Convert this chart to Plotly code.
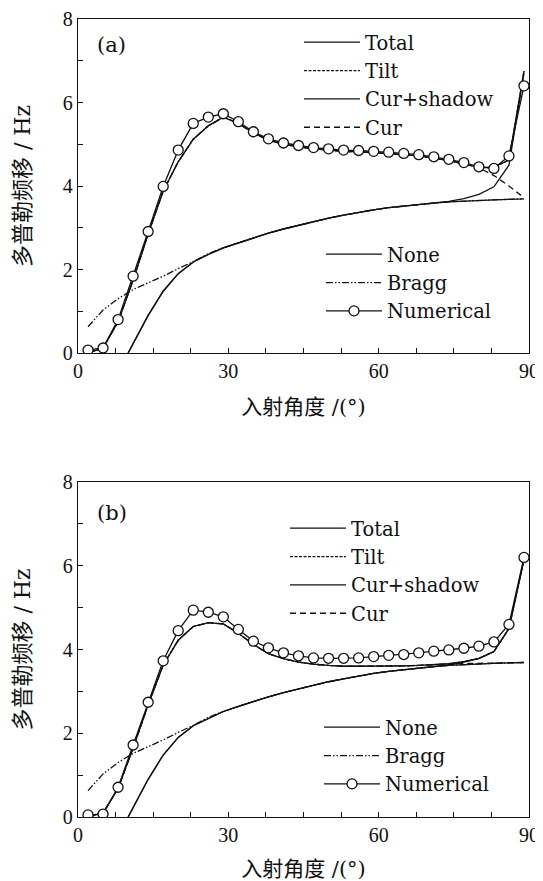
import plotly.graph_objects as go

# ---------------- data ----------------
x_num = [2, 5, 8, 11, 14, 17, 20, 23, 26, 29, 32, 35, 38, 41, 44, 47, 50, 53,
         56, 59, 62, 65, 68, 71, 74, 77, 80, 83, 86, 89]

# panel (a)
num_a = [0.07, 0.12, 0.80, 1.84, 2.91, 3.99, 4.86, 5.50, 5.65, 5.73, 5.54, 5.30,
         5.13, 5.03, 4.97, 4.92, 4.89, 4.86, 4.85, 4.83, 4.81, 4.78, 4.75, 4.70,
         4.64, 4.56, 4.46, 4.42, 4.72, 6.40]
total_a = [0.00, 0.12, 0.75, 1.75, 2.85, 3.88, 4.58, 5.12, 5.44, 5.65, 5.50, 5.27,
           5.10, 5.00, 4.94, 4.89, 4.86, 4.83, 4.82, 4.80, 4.78, 4.75, 4.72, 4.67,
           4.61, 4.53, 4.44, 4.45, 4.62, 6.75]
tilt_a = total_a
cur_a = [0.00, 0.12, 0.75, 1.75, 2.85, 3.88, 4.58, 5.12, 5.44, 5.65, 5.50, 5.27,
         5.10, 5.00, 4.94, 4.89, 4.86, 4.83, 4.82, 4.80, 4.78, 4.75, 4.72, 4.67,
         4.61, 4.53, 4.44, 4.25, 4.00, 3.72]

x_none = [10, 14, 17, 20, 23, 26, 29, 32, 35, 38, 41, 44, 47, 50, 53, 56, 59, 62,
          65, 68, 71, 74, 77, 80, 83, 86, 89]
none_a = [0.00, 0.90, 1.48, 1.90, 2.18, 2.36, 2.52, 2.64, 2.76, 2.87, 2.97, 3.06,
          3.15, 3.23, 3.30, 3.37, 3.43, 3.48, 3.52, 3.56, 3.59, 3.62, 3.64, 3.66,
          3.67, 3.68, 3.69]
curshadow_a = [0.00, 0.90, 1.48, 1.90, 2.18, 2.36, 2.52, 2.64, 2.76, 2.87, 2.97, 3.06,
               3.15, 3.23, 3.30, 3.37, 3.43, 3.48, 3.52, 3.56, 3.59, 3.63, 3.70, 3.80,
               3.98, 4.50, 6.70]

x_bragg = [2, 5, 8, 11, 14, 17, 20, 23, 26, 29, 32, 35, 38, 41, 44, 47, 50, 53,
           56, 59, 62, 65, 68, 71, 74, 77, 80, 83, 86, 89]
bragg_a = [0.63, 1.03, 1.30, 1.52, 1.68, 1.84, 2.02, 2.19, 2.38, 2.52, 2.64, 2.76,
           2.87, 2.97, 3.06, 3.15, 3.23, 3.30, 3.37, 3.43, 3.48, 3.52, 3.56, 3.59,
           3.62, 3.64, 3.66, 3.67, 3.68, 3.69]

# panel (b)
num_b = [0.05, 0.07, 0.71, 1.72, 2.74, 3.73, 4.45, 4.94, 4.89, 4.78, 4.48, 4.20,
         4.04, 3.92, 3.85, 3.80, 3.79, 3.79, 3.80, 3.83, 3.86, 3.88, 3.92, 3.96,
         3.99, 4.03, 4.08, 4.18, 4.60, 6.20]
total_b = [0.00, 0.10, 0.68, 1.65, 2.68, 3.63, 4.22, 4.55, 4.64, 4.61, 4.39, 4.12,
           3.90, 3.78, 3.70, 3.65, 3.62, 3.60, 3.60, 3.60, 3.60, 3.61, 3.62, 3.64,
           3.66, 3.71, 3.79, 3.95, 4.50, 6.15]
tilt_b = total_b
cur_b = [0.00, 0.10, 0.68, 1.65, 2.68, 3.63, 4.22, 4.55, 4.64, 4.61, 4.39, 4.12,
         3.90, 3.78, 3.70, 3.65, 3.62, 3.60, 3.60, 3.60, 3.60, 3.61, 3.62, 3.64,
         3.66, 3.67, 3.67, 3.68, 3.68, 3.69]
none_b = none_a
curshadow_b = [0.00, 0.90, 1.48, 1.90, 2.18, 2.36, 2.52, 2.64, 2.76, 2.87, 2.97, 3.06,
               3.15, 3.23, 3.30, 3.37, 3.43, 3.48, 3.52, 3.56, 3.59, 3.63, 3.70, 3.78,
               3.95, 4.50, 6.15]
bragg_b = bragg_a

x_tick_vals = [0, 30, 60, 90]
y_tick_vals = [0, 2, 4, 6, 8]
x_title = "入射角度 /(°)"
y_title = "多普勒频移 / Hz"
panel_labels = ["(a)", "(b)"]

# ---------------- styling ----------------
# The page body has an 8 px margin, so the figure is 8 px smaller than the window
# and all target (window) coordinates are shifted by OFF.
OFF = 8
W, H = 543 - OFF, 881 - OFF
ML, MR, MT, MB = 78 - OFF, 14, 19 - OFF, 64
PW, PH = W - ML - MR, H - MT - MB
TICKFONT = "'Liberation Serif', 'Noto Sans CJK SC', serif"
TEXTFONT = "'DejaVu Serif', 'Noto Sans CJK SC', serif"
LW = 1.3
BLACK = "#111111"


def px2x(px):
    return (px - OFF - ML) / PW


def py2y(py):
    return (H - MB - (py - OFF)) / PH


fig = go.Figure()


def add_panel(xa, ya, lg_top, lg_bot, total, tilt, cs, cur, none, bragg, num, cs_x):
    common = dict(xaxis=xa, yaxis=ya, mode="lines")
    fig.add_trace(go.Scatter(x=x_num, y=total, name="Total", legend=lg_top,
                             line=dict(color=BLACK, width=LW), **common))
    fig.add_trace(go.Scatter(x=x_num, y=tilt, name="Tilt", legend=lg_top,
                             line=dict(color=BLACK, width=LW, dash="3px,1.5px"), **common))
    fig.add_trace(go.Scatter(x=cs_x, y=cs, name="Cur+shadow", legend=lg_top,
                             line=dict(color=BLACK, width=LW), **common))
    fig.add_trace(go.Scatter(x=x_num, y=cur, name="Cur", legend=lg_top,
                             line=dict(color=BLACK, width=LW, dash="6px,4px"), **common))
    fig.add_trace(go.Scatter(x=x_none, y=none, name="None", legend=lg_bot,
                             line=dict(color=BLACK, width=LW), **common))
    fig.add_trace(go.Scatter(x=x_bragg, y=bragg, name="Bragg", legend=lg_bot,
                             line=dict(color=BLACK, width=LW, dash="7px,2px,1.5px,2px,1.5px,2px"),
                             **common))
    fig.add_trace(go.Scatter(x=x_num, y=num, name="Numerical", legend=lg_bot,
                             xaxis=xa, yaxis=ya, mode="lines+markers",
                             line=dict(color=BLACK, width=LW),
                             marker=dict(symbol="circle", size=10, color="white",
                                         line=dict(color=BLACK, width=1.3))))


add_panel("x", "y", "legend", "legend2", total_a, tilt_a, curshadow_a, cur_a,
          none_a, bragg_a, num_a, x_none)
add_panel("x2", "y2", "legend3", "legend4", total_b, tilt_b, curshadow_b, cur_b,
          none_b, bragg_b, num_b, x_none)

ya_dom = [py2y(353), 1.0]
yb_dom = [0.0, py2y(482)]

axis_common = dict(showline=True, linecolor=BLACK, linewidth=1.3, mirror=True,
                   ticks="inside", ticklen=5, tickwidth=1.1, tickcolor=BLACK,
                   showgrid=False, zeroline=False, automargin=False,
                   tickfont=dict(family=TICKFONT, size=20, color=BLACK))

xcommon = dict(axis_common, range=[0, 90], tickvals=x_tick_vals,
               minor=dict(dtick=7.5, ticks="inside", ticklen=5, tickwidth=1.1,
                          tickcolor=BLACK, showgrid=False),
               title=dict(text=x_title, font=dict(family=TEXTFONT, size=21, color=BLACK),
                          standoff=18))
ycommon = dict(axis_common, range=[0, 8], tickvals=y_tick_vals,
               minor=dict(dtick=1, ticks="inside", ticklen=5, tickwidth=1.1,
                          tickcolor=BLACK, showgrid=False),
               title=dict(text=y_title, font=dict(family=TEXTFONT, size=22, color=BLACK),
                          standoff=26))

leg_common = dict(font=dict(family=TEXTFONT, size=19.5, color=BLACK), bgcolor="rgba(0,0,0,0)",
                  itemwidth=56, xanchor="left", yanchor="top", tracegroupgap=0,
                  itemclick=False)

fig.update_layout(
    width=W, height=H,
    margin=dict(l=ML, r=MR, t=MT, b=MB, autoexpand=False),
    plot_bgcolor="white", paper_bgcolor="white",
    font=dict(family=TEXTFONT, color=BLACK),
    xaxis=dict(xcommon, domain=[0, 1], anchor="y"),
    yaxis=dict(ycommon, domain=ya_dom, anchor="x"),
    xaxis2=dict(xcommon, domain=[0, 1], anchor="y2"),
    yaxis2=dict(ycommon, domain=yb_dom, anchor="x2"),
    legend=dict(leg_common, x=px2x(299), y=py2y(23)),
    legend2=dict(leg_common, x=px2x(321), y=py2y(235)),
    legend3=dict(leg_common, x=px2x(285), y=py2y(509)),
    legend4=dict(leg_common, x=px2x(319), y=py2y(708)),
    annotations=[
        dict(text=panel_labels[0], x=px2x(95), y=py2y(45), xref="paper", yref="paper",
             xanchor="left", yanchor="middle", showarrow=False,
             font=dict(family=TEXTFONT, size=21, color=BLACK)),
        dict(text=panel_labels[1], x=px2x(95), y=py2y(513), xref="paper", yref="paper",
             xanchor="left", yanchor="middle", showarrow=False,
             font=dict(family=TEXTFONT, size=21, color=BLACK)),
    ],
)

fig.write_html("out.html")
